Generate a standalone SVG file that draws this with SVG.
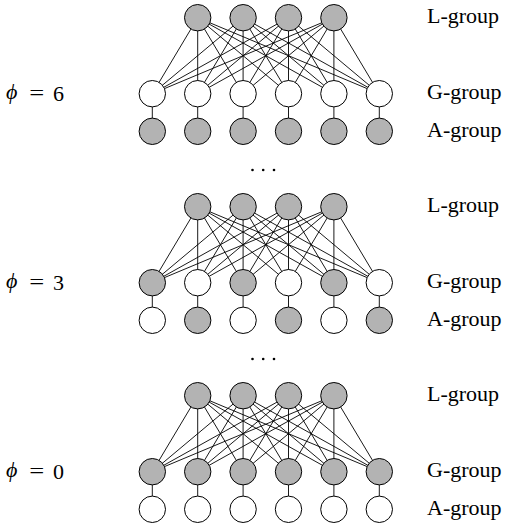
<svg xmlns="http://www.w3.org/2000/svg" xmlns:xlink="http://www.w3.org/1999/xlink" width="507" height="527" viewBox="0 0 507 527">
<style>
.e{stroke:#000;stroke-width:0.9;fill:none}
.g{fill:#b3b3b3;stroke:#000;stroke-width:1}
.w{fill:#fff;stroke:#000;stroke-width:1}
.lbl{font-family:"Liberation Serif","Times New Roman",serif;font-size:22px;fill:#000}
.phi{font-family:"Liberation Serif","Times New Roman",serif;font-size:22px;fill:#000}
.it{font-style:italic}
.dot{fill:#000}
</style>
<defs>
<g id="mesh">
<line class="e" x1="197.7" y1="17.7" x2="152.3" y2="93.7"/>
<line class="e" x1="197.7" y1="17.7" x2="197.7" y2="93.7"/>
<line class="e" x1="197.7" y1="17.7" x2="243.1" y2="93.7"/>
<line class="e" x1="197.7" y1="17.7" x2="288.5" y2="93.7"/>
<line class="e" x1="197.7" y1="17.7" x2="333.9" y2="93.7"/>
<line class="e" x1="197.7" y1="17.7" x2="379.3" y2="93.7"/>
<line class="e" x1="243.1" y1="17.7" x2="152.3" y2="93.7"/>
<line class="e" x1="243.1" y1="17.7" x2="197.7" y2="93.7"/>
<line class="e" x1="243.1" y1="17.7" x2="243.1" y2="93.7"/>
<line class="e" x1="243.1" y1="17.7" x2="288.5" y2="93.7"/>
<line class="e" x1="243.1" y1="17.7" x2="333.9" y2="93.7"/>
<line class="e" x1="243.1" y1="17.7" x2="379.3" y2="93.7"/>
<line class="e" x1="288.5" y1="17.7" x2="152.3" y2="93.7"/>
<line class="e" x1="288.5" y1="17.7" x2="197.7" y2="93.7"/>
<line class="e" x1="288.5" y1="17.7" x2="243.1" y2="93.7"/>
<line class="e" x1="288.5" y1="17.7" x2="288.5" y2="93.7"/>
<line class="e" x1="288.5" y1="17.7" x2="333.9" y2="93.7"/>
<line class="e" x1="288.5" y1="17.7" x2="379.3" y2="93.7"/>
<line class="e" x1="333.9" y1="17.7" x2="152.3" y2="93.7"/>
<line class="e" x1="333.9" y1="17.7" x2="197.7" y2="93.7"/>
<line class="e" x1="333.9" y1="17.7" x2="243.1" y2="93.7"/>
<line class="e" x1="333.9" y1="17.7" x2="288.5" y2="93.7"/>
<line class="e" x1="333.9" y1="17.7" x2="333.9" y2="93.7"/>
<line class="e" x1="333.9" y1="17.7" x2="379.3" y2="93.7"/>
<line class="e" x1="152.3" y1="93.7" x2="152.3" y2="131.3"/>
<line class="e" x1="197.7" y1="93.7" x2="197.7" y2="131.3"/>
<line class="e" x1="243.1" y1="93.7" x2="243.1" y2="131.3"/>
<line class="e" x1="288.5" y1="93.7" x2="288.5" y2="131.3"/>
<line class="e" x1="333.9" y1="93.7" x2="333.9" y2="131.3"/>
<line class="e" x1="379.3" y1="93.7" x2="379.3" y2="131.3"/>
</g>
</defs>
<g id="connectors">
<use xlink:href="#mesh"/>
<use xlink:href="#mesh" transform="translate(0,189)"/>
<use xlink:href="#mesh" transform="translate(0,378)"/>
</g>
<g id="phi6">
<g id="p6-L1"><circle class="g" cx="197.7" cy="17.7" r="13.2"/></g>
<g id="p6-L2"><circle class="g" cx="243.1" cy="17.7" r="13.2"/></g>
<g id="p6-L3"><circle class="g" cx="288.5" cy="17.7" r="13.2"/></g>
<g id="p6-L4"><circle class="g" cx="333.9" cy="17.7" r="13.2"/></g>
<g id="p6-G1"><circle class="w" cx="152.3" cy="93.7" r="13.2"/></g>
<g id="p6-G2"><circle class="w" cx="197.7" cy="93.7" r="13.2"/></g>
<g id="p6-G3"><circle class="w" cx="243.1" cy="93.7" r="13.2"/></g>
<g id="p6-G4"><circle class="w" cx="288.5" cy="93.7" r="13.2"/></g>
<g id="p6-G5"><circle class="w" cx="333.9" cy="93.7" r="13.2"/></g>
<g id="p6-G6"><circle class="w" cx="379.3" cy="93.7" r="13.2"/></g>
<g id="p6-A1"><circle class="g" cx="152.3" cy="131.3" r="13.2"/></g>
<g id="p6-A2"><circle class="g" cx="197.7" cy="131.3" r="13.2"/></g>
<g id="p6-A3"><circle class="g" cx="243.1" cy="131.3" r="13.2"/></g>
<g id="p6-A4"><circle class="g" cx="288.5" cy="131.3" r="13.2"/></g>
<g id="p6-A5"><circle class="g" cx="333.9" cy="131.3" r="13.2"/></g>
<g id="p6-A6"><circle class="g" cx="379.3" cy="131.3" r="13.2"/></g>
</g>
<g id="phi3">
<g id="p3-L1"><circle class="g" cx="197.7" cy="206.7" r="13.2"/></g>
<g id="p3-L2"><circle class="g" cx="243.1" cy="206.7" r="13.2"/></g>
<g id="p3-L3"><circle class="g" cx="288.5" cy="206.7" r="13.2"/></g>
<g id="p3-L4"><circle class="g" cx="333.9" cy="206.7" r="13.2"/></g>
<g id="p3-G1"><circle class="g" cx="152.3" cy="282.7" r="13.2"/></g>
<g id="p3-G2"><circle class="w" cx="197.7" cy="282.7" r="13.2"/></g>
<g id="p3-G3"><circle class="g" cx="243.1" cy="282.7" r="13.2"/></g>
<g id="p3-G4"><circle class="w" cx="288.5" cy="282.7" r="13.2"/></g>
<g id="p3-G5"><circle class="g" cx="333.9" cy="282.7" r="13.2"/></g>
<g id="p3-G6"><circle class="w" cx="379.3" cy="282.7" r="13.2"/></g>
<g id="p3-A1"><circle class="w" cx="152.3" cy="320.3" r="13.2"/></g>
<g id="p3-A2"><circle class="g" cx="197.7" cy="320.3" r="13.2"/></g>
<g id="p3-A3"><circle class="w" cx="243.1" cy="320.3" r="13.2"/></g>
<g id="p3-A4"><circle class="g" cx="288.5" cy="320.3" r="13.2"/></g>
<g id="p3-A5"><circle class="w" cx="333.9" cy="320.3" r="13.2"/></g>
<g id="p3-A6"><circle class="g" cx="379.3" cy="320.3" r="13.2"/></g>
</g>
<g id="phi0">
<g id="p0-L1"><circle class="g" cx="197.7" cy="395.7" r="13.2"/></g>
<g id="p0-L2"><circle class="g" cx="243.1" cy="395.7" r="13.2"/></g>
<g id="p0-L3"><circle class="g" cx="288.5" cy="395.7" r="13.2"/></g>
<g id="p0-L4"><circle class="g" cx="333.9" cy="395.7" r="13.2"/></g>
<g id="p0-G1"><circle class="g" cx="152.3" cy="471.7" r="13.2"/></g>
<g id="p0-G2"><circle class="g" cx="197.7" cy="471.7" r="13.2"/></g>
<g id="p0-G3"><circle class="g" cx="243.1" cy="471.7" r="13.2"/></g>
<g id="p0-G4"><circle class="g" cx="288.5" cy="471.7" r="13.2"/></g>
<g id="p0-G5"><circle class="g" cx="333.9" cy="471.7" r="13.2"/></g>
<g id="p0-G6"><circle class="g" cx="379.3" cy="471.7" r="13.2"/></g>
<g id="p0-A1"><circle class="w" cx="152.3" cy="509.3" r="13.2"/></g>
<g id="p0-A2"><circle class="w" cx="197.7" cy="509.3" r="13.2"/></g>
<g id="p0-A3"><circle class="w" cx="243.1" cy="509.3" r="13.2"/></g>
<g id="p0-A4"><circle class="w" cx="288.5" cy="509.3" r="13.2"/></g>
<g id="p0-A5"><circle class="w" cx="333.9" cy="509.3" r="13.2"/></g>
<g id="p0-A6"><circle class="w" cx="379.3" cy="509.3" r="13.2"/></g>
</g>
<g id="ellipses">
<circle class="dot" cx="252.5" cy="170" r="1.3"/>
<circle class="dot" cx="263.2" cy="170" r="1.3"/>
<circle class="dot" cx="274" cy="170" r="1.3"/>
<circle class="dot" cx="252.5" cy="359" r="1.3"/>
<circle class="dot" cx="263.2" cy="359" r="1.3"/>
<circle class="dot" cx="274" cy="359" r="1.3"/>
</g>
<g id="labels">
<text class="lbl" x="427" y="23.3">L-group</text>
<text class="lbl" x="427" y="99.3">G-group</text>
<text class="lbl" x="427" y="137">A-group</text>
<text class="lbl" x="427" y="212.3">L-group</text>
<text class="lbl" x="427" y="288.3">G-group</text>
<text class="lbl" x="427" y="326">A-group</text>
<text class="lbl" x="427" y="401.3">L-group</text>
<text class="lbl" x="427" y="477.3">G-group</text>
<text class="lbl" x="427" y="515">A-group</text>
</g>
<g id="phi-labels">
<text class="phi it" x="6" y="99.3">ϕ</text>
<text class="phi" x="29.3" y="100.3" textLength="15" lengthAdjust="spacingAndGlyphs">=</text>
<text class="phi" x="53" y="101.3" font-size="23">6</text>
<text class="phi it" x="6" y="288.3">ϕ</text>
<text class="phi" x="29.3" y="289.3" textLength="15" lengthAdjust="spacingAndGlyphs">=</text>
<text class="phi" x="53" y="290.3" font-size="23">3</text>
<text class="phi it" x="6" y="477.3">ϕ</text>
<text class="phi" x="29.3" y="478.3" textLength="15" lengthAdjust="spacingAndGlyphs">=</text>
<text class="phi" x="53" y="479.3" font-size="23">0</text>
</g>
</svg>
